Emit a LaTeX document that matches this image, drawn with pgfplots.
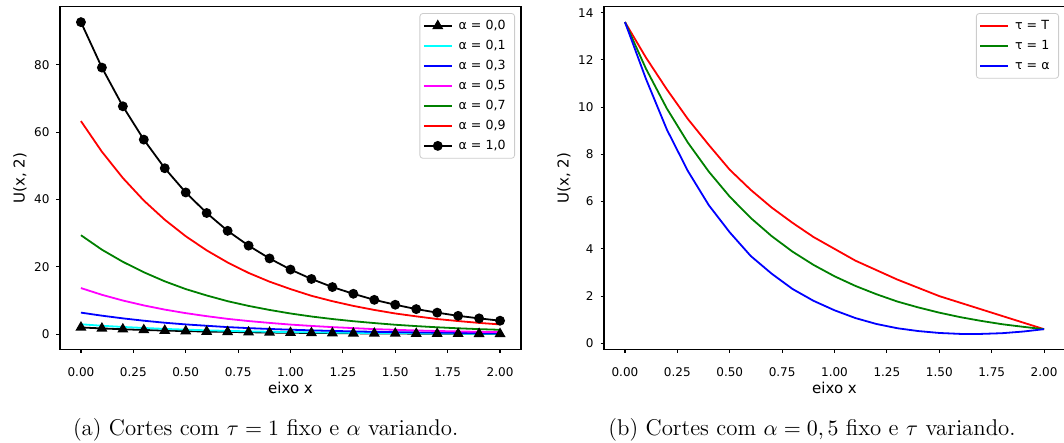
\documentclass[border=0pt]{standalone}
\usepackage{fontspec}
\usepackage{pgfplots}
\usepackage{pgfplotstable}
\pgfplotsset{compat=1.18}
\newfontfamily\dejavu{DejaVu Sans}

\pgfplotstableread{
x    a00  a01  a03  a05  a07  a09  a10
0.0  2.00 2.95 6.40 13.7 29.4 63.3 92.7
0.1  1.71 2.50 5.50 11.7 25.1 54.2 79.2
0.2  1.46 2.15 4.70 10.0 21.5 46.4 67.7
0.3  1.25 1.85 4.00 8.55 18.4 39.7 57.8
0.4  1.07 1.57 3.40 7.30 15.7 34.0 49.3
0.5  0.91 1.35 2.90 6.25 13.4 29.1 42.1
0.6  0.78 1.15 2.50 5.35 11.5 24.9 36.0
0.7  0.67 0.98 2.10 4.55 9.80 21.3 30.7
0.8  0.57 0.84 1.80 3.90 8.40 18.2 26.3
0.9  0.49 0.72 1.55 3.35 7.20 15.6 22.5
1.0  0.42 0.62 1.33 2.85 6.15 13.4 19.2
1.1  0.36 0.53 1.14 2.45 5.25 11.4 16.4
1.2  0.31 0.45 0.97 2.10 4.50 9.80 14.0
1.3  0.26 0.38 0.83 1.80 3.85 8.40 12.0
1.4  0.22 0.33 0.71 1.50 3.30 7.20 10.2
1.5  0.19 0.28 0.61 1.30 2.80 6.15 8.75
1.6  0.16 0.24 0.52 1.10 2.40 5.30 7.45
1.7  0.14 0.21 0.45 0.95 2.05 4.50 6.40
1.8  0.12 0.18 0.38 0.82 1.75 3.90 5.45
1.9  0.10 0.15 0.33 0.70 1.50 3.35 4.70
2.0  0.09 0.13 0.28 0.60 1.30 2.90 4.00
}\lefttable

\pgfplotstableread{
x    tT    t1    ta
0.0  13.6  13.6  13.6
0.1  12.1  11.63 11.2
0.2  10.75 9.94  9.05
0.3  9.50  8.50  7.30
0.4  8.40  7.27  5.85
0.5  7.35  6.21  4.70
0.6  6.50  5.31  3.70
0.7  5.75  4.54  2.95
0.8  5.10  3.88  2.30
0.9  4.50  3.32  1.80
1.0  4.00  2.84  1.40
1.1  3.50  2.43  1.07
1.2  3.10  2.08  0.82
1.3  2.70  1.77  0.64
1.4  2.35  1.52  0.52
1.5  2.00  1.30  0.44
1.6  1.72  1.11  0.40
1.7  1.44  0.95  0.40
1.8  1.16  0.81  0.43
1.9  0.88  0.70  0.50
2.0  0.60  0.60  0.60
}\righttable

\pgfplotsset{
  mystyle/.style={
    scale only axis, width=230.5pt, height=171.5pt,
    anchor=south west,
    xmin=-0.1, xmax=2.1,
    xtick={0,0.25,0.5,0.75,1,1.25,1.5,1.75,2},
    tick align=outside, tick pos=left, major tick length=1.75pt,
    axis line style={line width=0.55pt},
    every tick/.style={black, line width=0.55pt},
    ticklabel style={font=\dejavu\fontsize{6}{7}\selectfont},
    /pgf/number format/assume math mode=true,
    xticklabel style={yshift=-3.8pt, /pgf/number format/.cd, fixed, fixed zerofill, precision=2},
    label style={font=\dejavu\fontsize{7.5}{9}\selectfont},
    xlabel={eixo x}, ylabel={U(x, 2)},
    xlabel style={at={(axis description cs:0.5,-0.112)}, anchor=center},
    ylabel style={at={(axis description cs:-0.087,0.5)}, anchor=center},
    legend cell align=left,
    legend style={at={(1,1)}, anchor=north east, xshift=-3pt, yshift=-3.3pt,
      draw=black!20, rounded corners=1.5pt, fill=white,
      font=\dejavu\fontsize{6.3}{7.5}\selectfont,
      inner xsep=1.5pt, inner ysep=1.5pt, row sep=0.6pt,
      nodes={inner xsep=3pt, inner ysep=1.2pt, text height=5.2pt, text depth=1.8pt}},
    legend image code/.code={\draw[mark repeat=2,mark phase=2,##1] plot coordinates {(0pt,0pt) (7pt,0pt) (14pt,0pt)};},
    every axis plot/.append style={line width=0.9pt},
  }
}

\begin{document}
\begin{tikzpicture}
\path[use as bounding box] (0,0) rectangle (532pt,221.5pt);

\begin{axis}[mystyle, at={(30pt,46.75pt)}, ymin=-4.55, ymax=97.35,
  ytick={0,20,40,60,80}]
\addplot[black, mark=triangle*, mark size=2.3pt] table[x=x,y=a00]{\lefttable};
\addlegendentry{α = 0,0}
\addplot[color={rgb,1:red,0;green,1;blue,1}, no marks] table[x=x,y=a01]{\lefttable};
\addlegendentry{α = 0,1}
\addplot[blue, no marks] table[x=x,y=a03]{\lefttable};
\addlegendentry{α = 0,3}
\addplot[color={rgb,1:red,1;green,0;blue,1}, no marks] table[x=x,y=a05]{\lefttable};
\addlegendentry{α = 0,5}
\addplot[green!50!black, no marks] table[x=x,y=a07]{\lefttable};
\addlegendentry{α = 0,7}
\addplot[red, no marks] table[x=x,y=a09]{\lefttable};
\addlegendentry{α = 0,9}
\addplot[black, mark=*, mark size=2pt] table[x=x,y=a10]{\lefttable};
\addlegendentry{α = 1,0}
\end{axis}

\begin{axis}[mystyle, at={(302pt,46.75pt)}, ymin=-0.26, ymax=14.26,
  ytick={0,2,4,6,8,10,12,14}]
\addplot[red, no marks] table[x=x,y=tT]{\righttable};
\addlegendentry{τ = T}
\addplot[green!50!black, no marks] table[x=x,y=t1]{\righttable};
\addlegendentry{τ = 1}
\addplot[blue, no marks] table[x=x,y=ta]{\righttable};
\addlegendentry{τ = α}
\end{axis}

\node[anchor=base, font=\fontsize{11.4}{13.5}\selectfont] at (132.8pt,3.65pt) {(a) Cortes com $\tau = 1$ fixo e $\alpha$ variando.};
\node[anchor=base, font=\fontsize{11.4}{13.5}\selectfont] at (406pt,3.65pt) {(b) Cortes com $\alpha = 0,5$ fixo e $\tau$ variando.};
\end{tikzpicture}
\end{document}
